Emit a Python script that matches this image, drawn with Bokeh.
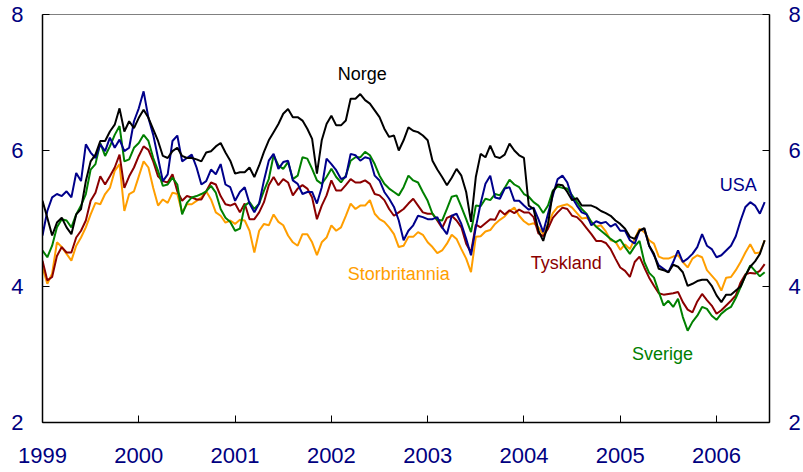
import numpy as np
from bokeh.plotting import figure
from bokeh.models import Range1d, LinearAxis, FixedTicker, Label
from bokeh.embed import file_html
from bokeh.resources import INLINE

# decimal-year sampling grid (about every 2.6 weeks), 1999.00 .. 2006.50
dates = [round(1999 + 0.05 * i, 2) for i in range(151)]

usa = [4.75, 5.11, 5.31, 5.36, 5.33, 5.40, 5.31, 5.67, 5.55, 6.09, 5.97, 5.89, 6.09, 5.99, 6.19, 6.04, 6.16, 5.99, 6.04, 6.43,
       6.62, 6.87, 6.48, 6.23, 5.89, 5.55, 5.65, 6.14, 6.22, 5.84, 5.89, 5.94, 5.75, 5.50, 5.55, 5.72, 5.65, 5.80, 5.50, 5.46,
       5.26, 5.39, 5.46, 5.22, 5.09, 5.22, 5.56, 5.85, 5.95, 5.73, 5.83, 5.85, 5.56, 5.51, 5.36, 5.39, 5.39, 5.22, 5.46, 5.88,
       5.80, 5.71, 5.58, 5.61, 5.95, 5.93, 5.85, 5.90, 5.88, 5.63, 5.56, 5.39, 5.29, 5.17, 4.97, 4.68, 4.82, 4.90, 5.04, 5.02,
       4.99, 4.99, 5.02, 4.87, 4.77, 5.04, 5.07, 4.92, 4.70, 4.46, 4.87, 5.22, 5.51, 5.63, 5.31, 5.29, 5.44, 5.46, 5.26, 5.26,
       5.19, 5.13, 5.16, 4.99, 4.80, 5.07, 5.34, 5.58, 5.63, 5.53, 5.31, 5.19, 5.09, 5.06, 4.90, 4.96, 4.93, 4.95, 4.88, 4.92,
       4.82, 4.82, 4.68, 4.63, 4.82, 4.85, 4.60, 4.46, 4.31, 4.26, 4.21, 4.36, 4.53, 4.36, 4.41, 4.48, 4.58, 4.77, 4.60, 4.55,
       4.43, 4.46, 4.53, 4.60, 4.74, 4.97, 5.17, 5.24, 5.19, 5.07, 5.24]

norge = [5.26, 5.01, 4.75, 4.94, 5.01, 4.87, 4.77, 5.06, 5.14, 5.55, 5.84, 5.94, 6.14, 6.14, 6.28, 6.38, 6.62, 6.28, 6.43, 6.33,
         6.48, 6.60, 6.48, 6.31, 6.14, 5.92, 5.89, 5.99, 6.04, 5.92, 5.89, 5.89, 5.87, 5.84, 5.97, 5.99, 6.06, 6.11, 5.97, 5.85,
         5.66, 5.68, 5.68, 5.75, 5.61, 5.78, 5.98, 6.15, 6.27, 6.39, 6.54, 6.61, 6.49, 6.49, 6.44, 6.32, 6.17, 5.66, 6.15, 6.39,
         6.51, 6.37, 6.37, 6.44, 6.76, 6.76, 6.83, 6.74, 6.69, 6.59, 6.49, 6.32, 6.20, 6.22, 6.00, 6.15, 6.34, 6.29, 6.27, 6.22,
         6.15, 5.85, 5.72, 5.61, 5.49, 5.60, 5.73, 5.63, 5.39, 4.95, 5.61, 5.95, 5.90, 6.07, 5.91, 5.89, 5.94, 6.10, 6.00, 5.93,
         5.89, 5.19, 5.14, 4.82, 4.67, 4.92, 5.39, 5.50, 5.49, 5.39, 5.27, 5.30, 5.19, 5.19, 5.19, 5.16, 5.11, 5.08, 5.04, 4.97,
         4.92, 4.85, 4.73, 4.70, 4.82, 4.86, 4.60, 4.48, 4.26, 4.24, 4.21, 4.32, 4.29, 4.21, 4.01, 4.04, 4.08, 4.10, 4.10, 4.01,
         3.87, 3.77, 3.88, 3.88, 3.94, 4.00, 4.16, 4.29, 4.37, 4.48, 4.68]

sverige = [4.53, 4.43, 4.60, 4.87, 4.99, 4.97, 4.87, 5.06, 5.19, 5.36, 5.72, 5.80, 6.11, 5.92, 6.06, 6.23, 6.36, 5.84, 5.87, 6.04,
           6.11, 6.23, 6.14, 5.89, 5.70, 5.48, 5.50, 5.60, 5.50, 5.06, 5.23, 5.31, 5.33, 5.36, 5.40, 5.48, 5.38, 5.14, 5.01, 4.95,
           4.82, 4.85, 5.19, 5.24, 5.14, 5.22, 5.41, 5.58, 5.93, 5.78, 5.73, 5.83, 5.58, 5.63, 5.90, 5.88, 5.73, 5.56, 5.51, 5.61,
           5.73, 5.61, 5.53, 5.63, 5.85, 5.90, 5.90, 5.98, 5.93, 5.80, 5.63, 5.51, 5.44, 5.39, 5.34, 5.46, 5.63, 5.56, 5.53, 5.39,
           5.26, 5.07, 4.98, 4.97, 5.14, 5.32, 5.34, 5.17, 4.99, 4.80, 5.19, 5.18, 5.29, 5.27, 5.36, 5.34, 5.45, 5.57, 5.50, 5.46,
           5.36, 5.32, 5.24, 5.19, 5.08, 5.19, 5.41, 5.47, 5.45, 5.44, 5.34, 5.24, 5.14, 5.07, 4.95, 4.88, 4.82, 4.76, 4.70, 4.65,
           4.69, 4.58, 4.48, 4.59, 4.67, 4.36, 4.20, 4.13, 3.92, 3.72, 3.79, 3.70, 3.82, 3.55, 3.35, 3.48, 3.57, 3.70, 3.67, 3.57,
           3.51, 3.60, 3.66, 3.70, 3.83, 3.99, 4.16, 4.31, 4.23, 4.15, 4.21]

tyskland = [4.38, 4.09, 4.14, 4.45, 4.58, 4.50, 4.50, 4.72, 4.82, 4.97, 5.26, 5.38, 5.62, 5.50, 5.62, 5.75, 5.94, 5.45, 5.62, 5.75,
            5.92, 6.06, 6.01, 5.84, 5.62, 5.55, 5.53, 5.65, 5.40, 5.26, 5.33, 5.31, 5.28, 5.28, 5.40, 5.53, 5.50, 5.33, 5.21, 5.19,
            5.22, 5.09, 5.22, 4.99, 4.99, 5.09, 5.24, 5.49, 5.61, 5.49, 5.58, 5.53, 5.34, 5.44, 5.49, 5.44, 5.31, 4.99, 5.19, 5.34,
            5.56, 5.41, 5.41, 5.49, 5.58, 5.53, 5.53, 5.56, 5.51, 5.36, 5.34, 5.27, 5.14, 5.04, 5.09, 5.14, 5.22, 5.29, 5.19, 5.09,
            5.07, 5.07, 4.97, 4.86, 5.01, 5.04, 4.97, 4.87, 4.63, 4.50, 4.91, 4.87, 4.93, 4.99, 4.98, 5.12, 5.06, 5.12, 5.08, 5.13,
            5.09, 5.09, 5.02, 4.78, 4.74, 4.85, 5.01, 5.09, 5.16, 5.14, 5.04, 5.02, 4.95, 4.86, 4.77, 4.67, 4.67, 4.64, 4.55, 4.41,
            4.28, 4.23, 4.14, 4.36, 4.44, 4.28, 4.13, 4.01, 3.90, 3.88, 3.89, 3.90, 3.92, 3.77, 3.66, 3.62, 3.78, 3.89, 3.80, 3.72,
            3.60, 3.65, 3.72, 3.79, 3.87, 4.06, 4.18, 4.20, 4.19, 4.23, 4.33]

storbritannia = [4.28, 4.04, 4.19, 4.65, 4.58, 4.48, 4.38, 4.60, 4.72, 4.87, 5.06, 5.23, 5.21, 5.36, 5.45, 5.70, 5.80, 5.11, 5.36, 5.40,
                 5.62, 5.84, 5.75, 5.45, 5.19, 5.28, 5.23, 5.38, 5.36, 5.09, 5.21, 5.21, 5.26, 5.31, 5.40, 5.28, 5.09, 5.04, 4.94, 4.97,
                 4.92, 4.98, 4.97, 4.82, 4.50, 4.82, 4.92, 4.90, 5.06, 4.95, 4.90, 4.75, 4.65, 4.60, 4.77, 4.77, 4.65, 4.46, 4.65, 4.72,
                 4.90, 4.82, 4.87, 5.04, 5.22, 5.14, 5.19, 5.19, 5.27, 5.07, 4.99, 4.95, 4.87, 4.77, 4.58, 4.60, 4.73, 4.73, 4.80, 4.76,
                 4.65, 4.58, 4.49, 4.53, 4.63, 4.76, 4.70, 4.55, 4.41, 4.21, 4.73, 4.74, 4.81, 4.83, 4.92, 4.98, 5.03, 5.11, 5.16, 5.04,
                 4.96, 4.91, 4.93, 4.87, 4.77, 4.92, 5.08, 5.17, 5.19, 5.21, 5.16, 5.08, 5.00, 5.01, 4.95, 4.88, 4.90, 4.81, 4.68, 4.66,
                 4.54, 4.62, 4.55, 4.70, 4.85, 4.80, 4.68, 4.63, 4.44, 4.41, 4.41, 4.44, 4.46, 4.36, 4.28, 4.41, 4.46, 4.43, 4.24, 4.16,
                 4.08, 3.94, 4.13, 4.14, 4.24, 4.36, 4.50, 4.62, 4.49, 4.50, 4.68]

year_ticks = [1999, 2000, 2001, 2002, 2003, 2004, 2005, 2006]
value_ticks = [2, 4, 6, 8]

series = [
    ("Storbritannia", storbritannia, "#ff9e00"),
    ("Tyskland", tyskland, "#8b0000"),
    ("Sverige", sverige, "#008000"),
    ("USA", usa, "#00008b"),
    ("Norge", norge, "#000000"),
]

label_pos = {
    "Norge": (2002.32, 7.12),
    "USA": (2006.225, 5.49),
    "Storbritannia": (2002.70, 4.18),
    "Tyskland": (2004.44, 4.34),
    "Sverige": (2005.44, 3.01),
}

TICK_COLOR = "#000080"
FONT = "Liberation Sans"

p = figure(width=803, height=472, output_backend="svg", toolbar_location=None,
           x_range=Range1d(1999.0, 2006.55), y_range=Range1d(2, 8),
           min_border_left=42, min_border_right=31, min_border_top=14, min_border_bottom=50)
p.add_layout(LinearAxis(), "right")

p.xgrid.grid_line_color = None
p.ygrid.grid_line_color = None
p.outline_line_color = "#808080"
p.outline_line_width = 1
p.background_fill_color = "white"
p.border_fill_color = "white"

for ax in p.yaxis:
    ax.ticker = FixedTicker(ticks=value_ticks)
    ax.major_label_standoff = 19
for ax in p.xaxis:
    ax.ticker = FixedTicker(ticks=year_ticks)
    ax.major_label_standoff = 25
for ax in list(p.xaxis) + list(p.yaxis):
    ax.major_tick_in = 7
    ax.major_tick_out = 0
    ax.minor_tick_line_color = None
    ax.axis_line_color = "black"
    ax.axis_line_width = 1.5
    ax.major_tick_line_color = "black"
    ax.major_tick_line_width = 1
    ax.major_label_text_font = FONT
    ax.major_label_text_font_size = "22px"
    ax.major_label_text_color = TICK_COLOR

for name, vals, color in series:
    p.line(dates, vals, line_color=color, line_width=2)
    lx, ly = label_pos[name]
    p.add_layout(Label(x=lx, y=ly, text=name, text_align="center", text_baseline="middle",
                       text_font=FONT, text_font_size="18px", text_color=color))

open("out.html", "w").write(file_html(p, INLINE))
